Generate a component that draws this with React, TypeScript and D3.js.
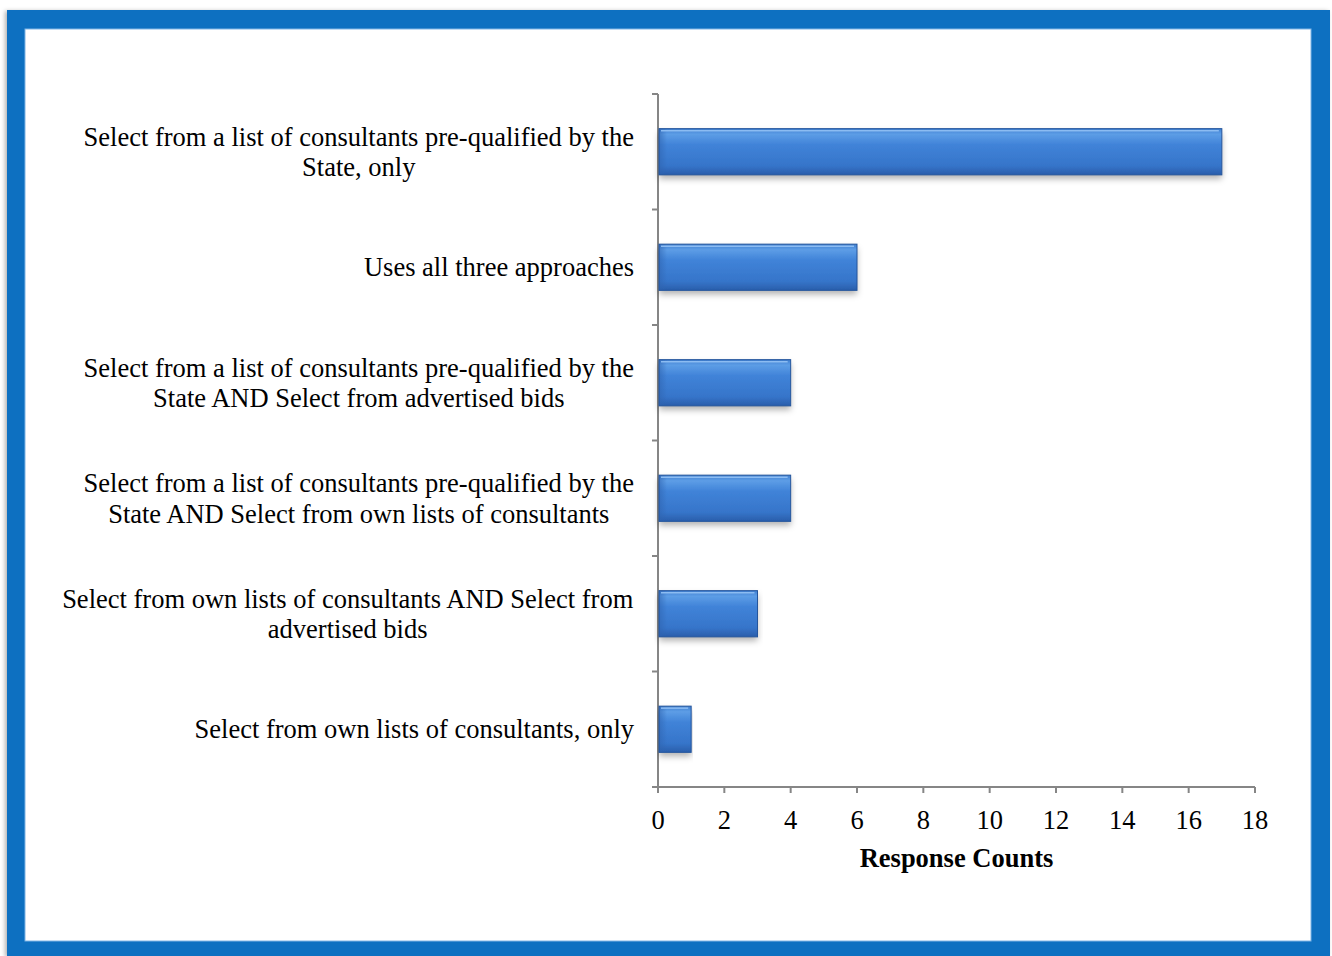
import React from "react";
import * as d3 from "d3";

const categories: string[][] = [
  ["Select from a list of consultants pre-qualified by the", "State, only"],
  ["Uses all three approaches"],
  ["Select from a list of consultants pre-qualified by the", "State AND Select from advertised bids"],
  ["Select from a list of consultants pre-qualified by the", "State AND Select from own lists of consultants"],
  ["Select from own lists of consultants AND Select from", "advertised bids"],
  ["Select from own lists of consultants, only"],
];
const values: number[] = [17, 6, 4, 4, 3, 1];
const xTicks: number[] = [0, 2, 4, 6, 8, 10, 12, 14, 16, 18];
const xTitle = "Response Counts";

const W = 1332;
const H = 956;
const FONT = "'Liberation Serif', 'Times New Roman', serif";

function measure(text: string, size: number): number {
  const c = document.createElement("canvas");
  const ctx = c.getContext("2d");
  if (!ctx) return text.length * size * 0.45;
  ctx.font = `${size}px ${FONT}`;
  return ctx.measureText(text).width;
}

export default function App() {
  const x0 = 658, x1 = 1255, yTop = 94, yBot = 787;
  const x = d3.scaleLinear().domain([0, 18]).range([x0, x1]);
  const y = d3.scaleBand<number>().domain(d3.range(categories.length)).range([yTop, yBot]).paddingInner(0.6).paddingOuter(0.3);
  const yb = d3.scaleBand<number>().domain(d3.range(categories.length)).range([yTop, yBot]);
  const labelRight = 634;
  const fs = 26.5;
  const lh = 30.5;

  return (
    <svg width={W} height={H} style={{ position: "absolute", left: 0, top: 0 }}>
      <defs>
        <linearGradient id="barG" x1="0" y1="0" x2="0" y2="1">
          <stop offset="0" stopColor="#3f7fd0" />
          <stop offset="0.12" stopColor="#5d9de6" />
          <stop offset="0.35" stopColor="#4083d8" />
          <stop offset="0.8" stopColor="#3675ca" />
          <stop offset="1" stopColor="#2a5eab" />
        </linearGradient>
        <linearGradient id="edgeL" x1="0" y1="0" x2="1" y2="0">
          <stop offset="0" stopColor="#2f64b0" stopOpacity="0.6" />
          <stop offset="1" stopColor="#2f64b0" stopOpacity="0" />
        </linearGradient>
        <filter id="sh" x="-5%" y="-20%" width="110%" height="160%">
          <feDropShadow dx="0" dy="4" stdDeviation="3" floodColor="#000" floodOpacity="0.3" />
        </filter>
        <filter id="fsh" x="-2%" y="-2%" width="104%" height="104%">
          <feDropShadow dx="-2" dy="1" stdDeviation="2" floodColor="#000" floodOpacity="0.3" />
        </filter>
      </defs>
      <rect x={0} y={0} width={W} height={H} fill="#ffffff" />
      <rect x={7} y={10} width={1323} height={946} fill="#0b6fc1" filter="url(#fsh)" />
      <rect x={25} y={29} width={1286} height={912} fill="#ffffff" stroke="#7fb4e6" strokeWidth={1} />

      {/* y axis */}
      <line x1={x0} x2={x0} y1={yTop} y2={yBot} stroke="#868686" strokeWidth={2} />
      {d3.range(categories.length + 1).map((i) => {
        const yy = i < categories.length ? (yb(i) as number) : yBot;
        return <line key={"yt" + i} x1={x0 - 6} x2={x0} y1={yy} y2={yy} stroke="#868686" strokeWidth={2} />;
      })}
      {/* x axis */}
      <line x1={x0 - 6} x2={x1} y1={yBot} y2={yBot} stroke="#868686" strokeWidth={2} />
      {xTicks.map((t) => (
        <g key={"xt" + t}>
          <line x1={x(t)} x2={x(t)} y1={yBot} y2={yBot + 6} stroke="#868686" strokeWidth={2} />
          <text x={x(t)} y={829} textAnchor="middle" fontFamily={FONT} fontSize={fs} fill="#000">{t}</text>
        </g>
      ))}
      <text x={(x0 + x1) / 2} y={867} textAnchor="middle" fontFamily={FONT} fontSize={fs} fontWeight="bold" fill="#000">{xTitle}</text>

      {/* bars */}
      {values.map((v, i) => {
        const by = y(i) as number;
        const bh = y.bandwidth();
        const bw = x(v) - x0;
        return (
          <g key={"b" + i}>
            <rect x={x0 + 1} y={by} width={bw - 1} height={bh} fill="url(#barG)" filter="url(#sh)" />
            <rect x={x0 + 1} y={by} width={Math.min(8, bw)} height={bh} fill="url(#edgeL)" />
            <rect x={x0 + 1} y={by} width={bw - 1} height={bh} fill="none" stroke="#24559c" strokeWidth={1} />
            <line x1={x0 + 3} x2={x(v) - 3} y1={by + 2} y2={by + 2} stroke="#8cbcf2" strokeWidth={1.5} />
          </g>
        );
      })}

      {/* category labels */}
      {categories.map((lines, i) => {
        const cy = (yb(i) as number) + yb.bandwidth() / 2;
        const maxW = Math.max(...lines.map((l) => measure(l, fs)));
        const cx = labelRight - maxW / 2;
        const startY = cy - ((lines.length - 1) * lh) / 2 + 9;
        return (
          <text key={"c" + i} fontFamily={FONT} fontSize={fs} fill="#000" textAnchor="middle">
            {lines.map((l, j) => (
              <tspan key={j} x={cx} y={startY + j * lh}>{l}</tspan>
            ))}
          </text>
        );
      })}
    </svg>
  );
}
